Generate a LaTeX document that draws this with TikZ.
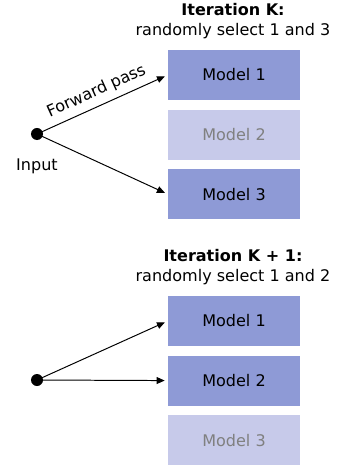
\documentclass[tikz,border=0pt]{standalone}
\usepackage{fontspec}
\setmainfont{DejaVu Sans}
\usetikzlibrary{positioning,arrows.meta}
\definecolor{selblue}{RGB}{142,154,214}
\definecolor{offblue}{RGB}{199,202,234}
\tikzset{
  model/.style={fill=selblue, minimum width=3.3cm, minimum height=1.25cm, inner sep=0pt},
  idle/.style={model, fill=offblue, text=gray},
  fwd/.style={-{Triangle[length=0.2cm,width=0.17cm]}, line width=0.7pt, shorten >=0.075cm},
  dot/.style={circle, fill=black, inner sep=0pt, minimum size=0.3cm},
}

\begin{document}
\begin{tikzpicture}[x=0.025cm,y=-0.025cm,node distance=0.225cm,font=\fontsize{11.4}{14.2}\selectfont]
  \useasboundingbox (0,0) rectangle (338,465);

  % iteration K
  \node[align=center] (titleK) at (233,21) {\textbf{Iteration K:}\\randomly select 1 and 3};
  \node[model] (k1) at (234,75) {Model 1};
  \node[idle] (k2) [below=of k1] {Model 2};
  \node[model] (k3) [below=of k2] {Model 3};
  \node[dot] (inK) at (37,134) {};
  \node (inKlab) [below=0.34cm of inK] {Input};
  \draw[fwd] (inK.center) -- node[above=1pt,sloped] {Forward pass} (k1.west);
  \draw[fwd] (inK.center) -- (k3.west);

  % iteration K+1
  \node[align=center] (titleK1) at (233,267) {\textbf{Iteration K + 1:}\\randomly select 1 and 2};
  \node[model] (j1) at (234,321) {Model 1};
  \node[model] (j2) [below=of j1] {Model 2};
  \node[idle] (j3) [below=of j2] {Model 3};
  \node[dot] (inJ) at (37,380) {};
  \draw[fwd] (inJ.center) -- (j1.west);
  \draw[fwd] (inJ.center) -- (j2.west);
\end{tikzpicture}
\end{document}
